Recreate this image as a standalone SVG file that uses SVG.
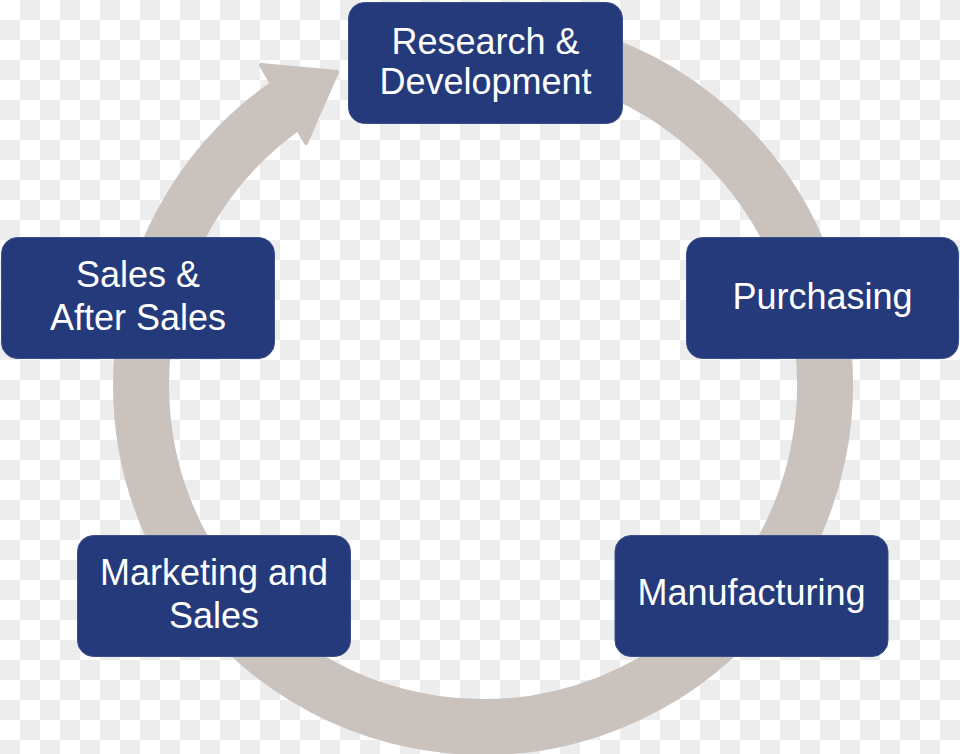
<svg xmlns="http://www.w3.org/2000/svg" width="960" height="754" viewBox="0 0 960 754">
<defs>
<pattern id="checker" x="0" y="0" width="40" height="40" patternUnits="userSpaceOnUse">
<rect x="0" y="0" width="40" height="40" fill="#ffffff"/>
<rect x="20" y="0" width="20" height="20" fill="#ededed"/>
<rect x="0" y="20" width="20" height="20" fill="#ededed"/>
</pattern>
</defs>
<style>
.box{fill:#243a7b;stroke:#3a4f8c;stroke-width:1}
.lbl{fill:#ffffff;font-family:"Liberation Sans",Arial,Helvetica,sans-serif;font-size:36px;text-anchor:middle}
.ring{fill:none;stroke:#c9c2bd;stroke-width:56}
.head{fill:#c9c2bd;stroke:#c9c2bd;stroke-width:4;stroke-linejoin:round}
</style>
<rect x="0" y="0" width="960" height="754" fill="url(#checker)"/>
<g id="connectors">
<path class="ring" d="M 423.6 48.2 A 342 342 0 1 1 294.3 99.8"/>
<polygon class="head" points="261,65 337,72 306,143"/>
</g>
<g id="node-rd">
<rect class="box" x="348.5" y="2.5" width="274" height="121" rx="16"/>
<text class="lbl" x="485.5" y="54">Research &amp;</text>
<text class="lbl" x="485.5" y="94">Development</text>
</g>
<g id="node-purchasing">
<rect class="box" x="686.5" y="237.5" width="272" height="121" rx="16"/>
<text class="lbl" x="822.5" y="309">Purchasing</text>
</g>
<g id="node-manufacturing">
<rect class="box" x="615" y="535.5" width="273" height="121" rx="16"/>
<text class="lbl" x="751.5" y="605">Manufacturing</text>
</g>
<g id="node-marketing">
<rect class="box" x="77.5" y="535.5" width="273" height="121" rx="16"/>
<text class="lbl" x="214" y="585">Marketing and</text>
<text class="lbl" x="214" y="628">Sales</text>
</g>
<g id="node-sales">
<rect class="box" x="1.5" y="237.5" width="273" height="121" rx="16"/>
<text class="lbl" x="138" y="287">Sales &amp;</text>
<text class="lbl" x="138" y="330">After Sales</text>
</g>
</svg>
